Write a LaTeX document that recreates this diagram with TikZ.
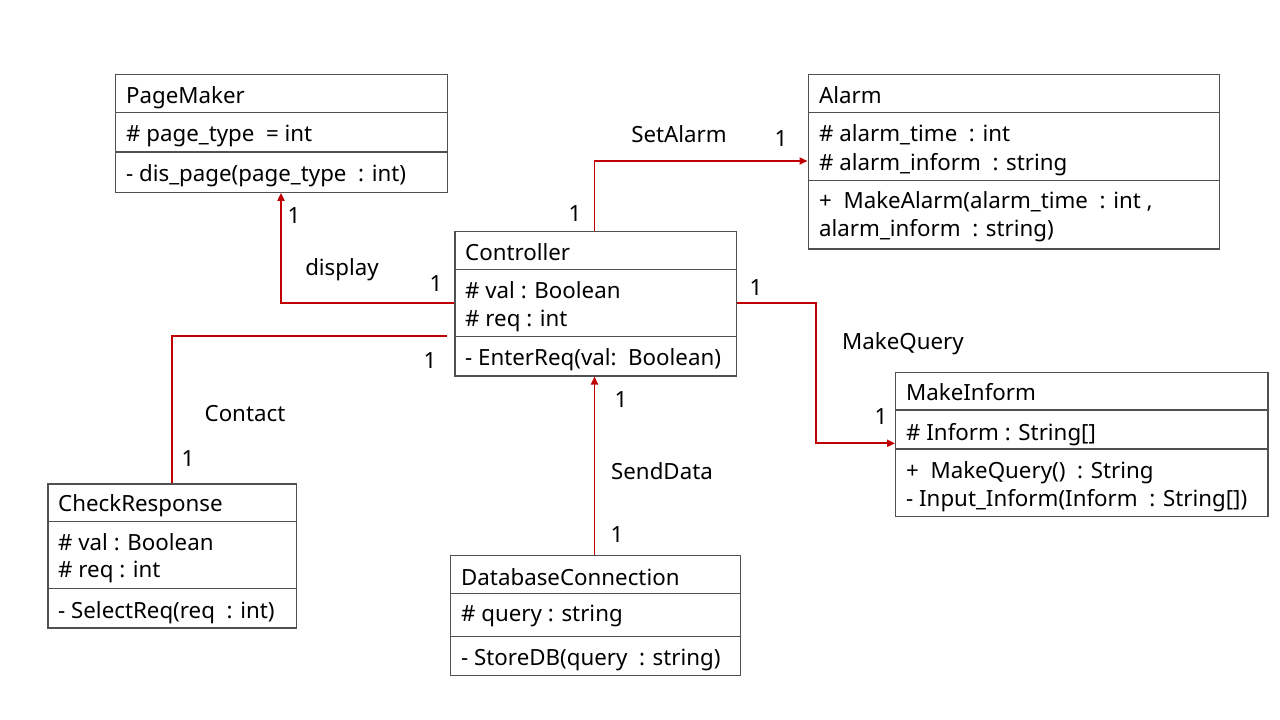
\documentclass[tikz,border=0pt]{standalone}
\usepackage{fontspec}
\setmainfont{Noto Sans}
\usetikzlibrary{arrows.meta}
\definecolor{connred}{RGB}{192,0,0}
\definecolor{boxgray}{RGB}{80,80,80}
\tikzset{
  cls/.style={draw=boxgray, line width=1.2pt, rectangle, inner sep=0pt, anchor=north west},
  sep/.style={draw=boxgray, line width=1.2pt},
  txt/.style={anchor=base west, inner sep=0pt, font=\fontsize{22.3}{26}\selectfont},
  lbl/.style={anchor=base, inner sep=0pt, font=\fontsize{22.3}{26}\selectfont},
  conn/.style={draw=connred, line width=1.9pt},
  tip/.style={-{Triangle[length=8pt,width=7pt]}}
}
\begin{document}
\begin{tikzpicture}[x=1pt,y=-1pt]
\useasboundingbox (0,0) rectangle (1280,720);
\fill[white] (0,0) rectangle (1280,720);

% PageMaker
\node[cls, minimum width=331.7pt, minimum height=117.7pt] (pm) at (115,74) {};
\draw[sep] (pm.west |- 0,112.5) -- (pm.east |- 0,112.5);
\draw[sep] (pm.west |- 0,152) -- (pm.east |- 0,152);
\node[txt] (pmT) at (126,103.3) {PageMaker};
\node[txt] (pmA) at (126,141.7) {\# page\_type\ \ = int};
\node[txt] (pmM) at (126,181.7) {- dis\_page(page\_type\ \ : int)};

% Alarm
\node[cls, minimum width=411pt, minimum height=174.3pt] (al) at (807.5,74) {};
\draw[sep] (al.west |- 0,112.5) -- (al.east |- 0,112.5);
\draw[sep] (al.west |- 0,180.7) -- (al.east |- 0,180.7);
\node[txt] (alT) at (819,103.3) {Alarm};
\node[txt] (alA1) at (819,141.7) {\# alarm\_time\ \ : int};
\node[txt] (alA2) at (819,170) {\# alarm\_inform\ \ : string};
\node[txt] (alM1) at (819,208.3) {+\ \ MakeAlarm(alarm\_time\ \ : int ,};
\node[txt] (alM2) at (819,236.7) {alarm\_inform\ \ : string)};

% Controller
\node[cls, minimum width=281.7pt, minimum height=144.3pt] (ctrl) at (454.3,231) {};
\draw[sep] (ctrl.west |- 0,269.5) -- (ctrl.east |- 0,269.5);
\draw[sep] (ctrl.west |- 0,336.7) -- (ctrl.east |- 0,336.7);
\node[txt] (ctT) at (465,260) {Controller};
\node[txt] (ctA1) at (465,298.3) {\# val : Boolean};
\node[txt] (ctA2) at (465,326) {\# req : int};
\node[txt] (ctM) at (465,365.7) {- EnterReq(val:\ \ Boolean)};

% MakeInform
\node[cls, minimum width=372.3pt, minimum height=144pt] (mi) at (895,371.7) {};
\draw[sep] (mi.west |- 0,410) -- (mi.east |- 0,410);
\draw[sep] (mi.west |- 0,449) -- (mi.east |- 0,449);
\node[txt] (miT) at (906,400) {MakeInform};
\node[txt] (miA) at (906,440) {\# Inform : String[]};
\node[txt] (miM1) at (906,478.3) {+\ \ MakeQuery()\ \ : String};
\node[txt] (miM2) at (906,506.7) {- Input\_Inform(Inform\ \ : String[])};

% CheckResponse
\node[cls, minimum width=248.4pt, minimum height=144pt] (cr) at (47.3,483.3) {};
\draw[sep] (cr.west |- 0,521.7) -- (cr.east |- 0,521.7);
\draw[sep] (cr.west |- 0,588.3) -- (cr.east |- 0,588.3);
\node[txt] (crT) at (58,511.7) {CheckResponse};
\node[txt] (crA1) at (58,550) {\# val : Boolean};
\node[txt] (crA2) at (58,577.3) {\# req : int};
\node[txt] (crM) at (58,618.3) {- SelectReq(req\ \ : int)};

% DatabaseConnection
\node[cls, minimum width=290pt, minimum height=120pt] (db) at (450,555) {};
\draw[sep] (db.west |- 0,593.5) -- (db.east |- 0,593.5);
\draw[sep] (db.west |- 0,636.7) -- (db.east |- 0,636.7);
\node[txt] (dbT) at (461,585) {DatabaseConnection};
\node[txt] (dbA) at (461,621.7) {\# query : string};
\node[txt] (dbM) at (461,665) {- StoreDB(query\ \ : string)};

% connectors
\coordinate (ctA) at (446.5,336);
\draw[conn,tip] (ctrl.west |- 0,303.3) -| (pm.south -| 281,0);
\draw[conn,tip] (ctrl.north -| 594.5,0) |- (al.west |- 0,161);
\draw[conn,tip] (ctrl.east |- 0,302.7) -- (815.7,302.7) |- (mi.west |- 0,443.3);
\draw[conn] (ctA) -| (cr.north -| 172,0);
\draw[conn,tip] (db.north -| 594.5,0) -- (ctrl.south -| 594.5,0);

% labels
\node[lbl] (l1) at (294,223.5) {1};
\node[lbl] (ldisp) at (342,275) {display};
\node[lbl] (l2) at (436,291.5) {1};
\node[lbl] (l3) at (575,221.5) {1};
\node[lbl] (lset) at (679,142.7) {SetAlarm};
\node[lbl] (l4) at (781,146.5) {1};
\node[lbl] (l5) at (756,295.5) {1};
\node[lbl] (lmq) at (903,349) {MakeQuery};
\node[lbl] (l6) at (881,424.5) {1};
\node[lbl] (l7) at (430,368.5) {1};
\node[lbl] (lcon) at (245,421.7) {Contact};
\node[lbl] (l8) at (188,466.5) {1};
\node[lbl] (l9) at (621,407.5) {1};
\node[lbl] (lsd) at (662,479) {SendData};
\node[lbl] (l10) at (617,542.5) {1};
\end{tikzpicture}
\end{document}
